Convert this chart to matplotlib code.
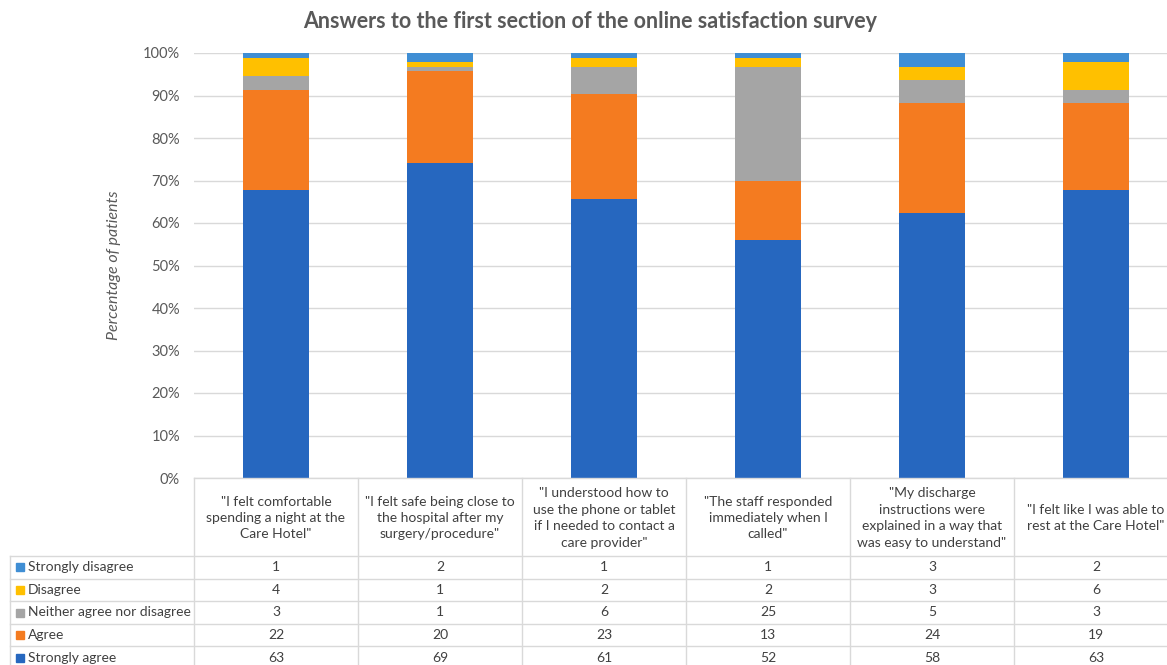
import matplotlib
matplotlib.use("Agg")
import matplotlib.pyplot as plt
from matplotlib.patches import Rectangle
import numpy as np

plt.rcParams['font.family'] = ['Lato', 'DejaVu Sans']

questions = [
    '"I felt comfortable\nspending a night at the\nCare Hotel"',
    '"I felt safe being close to\nthe hospital after my\nsurgery/procedure"',
    '"I understood how to\nuse the phone or tablet\nif I needed to contact a\ncare provider"',
    '"The staff responded\nimmediately when I\ncalled"',
    '"My discharge\ninstructions were\nexplained in a way that\nwas easy to understand"',
    '"I felt like I was able to\nrest at the Care Hotel"',
]
responses = ["Strongly agree", "Agree", "Neither agree nor disagree",
             "Disagree", "Strongly disagree"]
strongly_agree = [63, 69, 61, 52, 58, 63]
agree = [22, 20, 23, 13, 24, 19]
neither = [3, 1, 6, 25, 5, 3]
disagree = [4, 1, 2, 2, 3, 6]
strongly_disagree = [1, 2, 1, 1, 3, 2]
colors = ["#2667BF", "#F47B20", "#A5A5A5", "#FFC000", "#3F8ED4"]

counts = np.array([strongly_agree, agree, neither, disagree, strongly_disagree], dtype=float)
shares = counts / counts.sum(axis=0) * 100

W, H = 1167, 665
fig = plt.figure(figsize=(W / 100, H / 100), dpi=100)

# pixel geometry of the plot area
x0, col_w = 194, 164
y_top, y_base = 53, 478
ax = fig.add_axes([x0 / W, 1 - y_base / H, 6 * col_w / W, (y_base - y_top) / H])
xs = np.arange(len(questions))
bottom = np.zeros(len(questions))
for vals, c in zip(shares, colors):
    ax.bar(xs, vals, width=0.4, bottom=bottom, color=c, zorder=3)
    bottom += vals
ax.set_xlim(-0.5, len(questions) - 0.5)
ax.set_ylim(0, 100)
ax.set_yticks(np.arange(0, 101, 10))
ax.set_yticklabels([f"{v}%" for v in range(0, 101, 10)], fontsize=10.5, color="#595959")
ax.tick_params(axis="y", length=0, pad=10)
ax.set_xticks([])
ax.grid(axis="y", color="#D9D9D9", linewidth=1, zorder=0)
for s in ax.spines.values():
    s.set_visible(False)
ax.set_ylabel("Percentage of patients", fontsize=11.5, style="italic", color="#595959")
ax.yaxis.set_label_coords((121 - x0) / (6 * col_w), 0.5)

# overlay in pixel coordinates for the title and data table
ov = fig.add_axes([0, 0, 1, 1], facecolor="none")
ov.set_xlim(0, W)
ov.set_ylim(H, 0)
ov.axis("off")

ov.text(590, 22, "Answers to the first section of the online satisfaction survey",
        ha="center", va="center", fontsize=15.5, fontweight="bold", color="#595959")

line_c = "#D9D9D9"
row_tops = [556, 578.6, 601.2, 623.8, 646.4, 669]
for y in row_tops:
    ov.plot([10, W + 20], [y, y], color=line_c, lw=1, clip_on=False)
ov.plot([10, 10], [row_tops[0], H + 5], color=line_c, lw=1)
for i in range(len(questions) + 1):
    xv = x0 + i * col_w
    ov.plot([xv, xv], [y_base, H + 5], color=line_c, lw=1)
ov.plot([x0, W + 20], [y_base, y_base], color=line_c, lw=1)

for i, q in enumerate(questions):
    ov.text(x0 + (i + 0.5) * col_w, 518, q, ha="center", va="center",
            fontsize=10, color="#404040", linespacing=1.45)

table_rows = list(zip(responses, colors, counts))[::-1]
for r, (name, c, vals) in enumerate(table_rows):
    yc = (row_tops[r] + row_tops[r + 1]) / 2
    ov.add_patch(Rectangle((16, yc - 4), 8, 8, color=c))
    ov.text(28, yc, name, ha="left", va="center", fontsize=10, color="#404040")
    for i, v in enumerate(vals):
        ov.text(x0 + (i + 0.5) * col_w, yc, f"{int(v)}", ha="center", va="center",
                fontsize=10, color="#404040")

fig.savefig("out.png", dpi=100)
